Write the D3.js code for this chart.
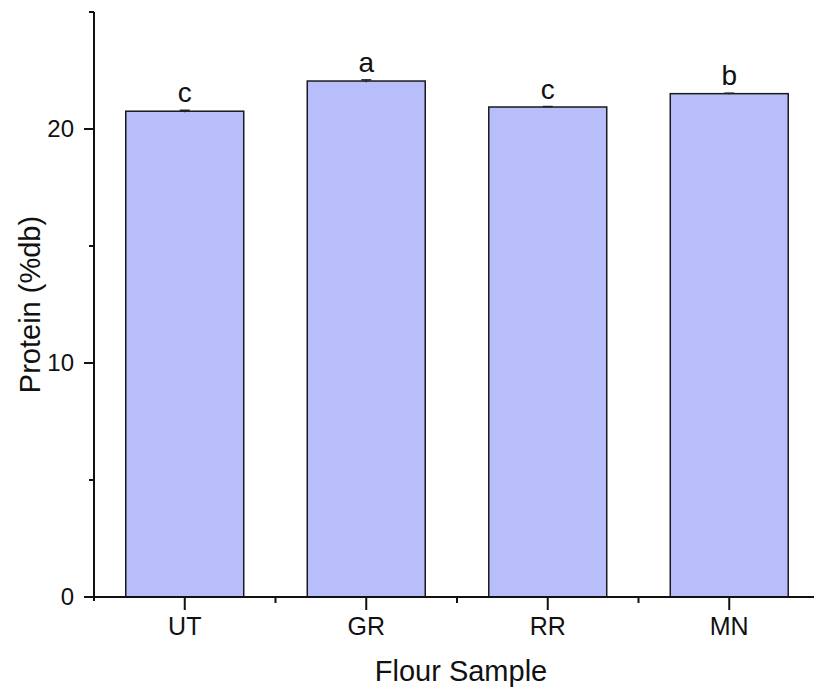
<!DOCTYPE html>
<html>
<head>
<meta charset="utf-8">
<script src="https://cdn.jsdelivr.net/npm/d3@7"></script>
<style>
  body { margin: 0; background: #fff; }
  svg { display: block; }
</style>
</head>
<body>
<div id="chart"></div>
<script>
// Data
const samples = ['UT', 'GR', 'RR', 'MN'];
const protein = [20.76, 22.05, 20.94, 21.51];
const proteinSd = [0.04, 0.05, 0.02, 0.02];
const groupLetters = ['c', 'a', 'c', 'b'];
const yMajorTicks = [0, 10, 20];
const yMinorTicks = [5, 15, 25];

// Layout constants
const CFG = {
  width: 814,
  height: 687,
  axisLeft: 94,
  axisRight: 820,
  axisTop: 12,
  axisBottom: 597,
  majorTick: 10,
  minorTick: 5,
  fontFamily: 'Arial, "Liberation Sans", Helvetica, sans-serif',
  barFill: '#b8befa',
  ink: '#111',
};

const svg = d3.select('#chart')
  .append('svg')
  .attr('width', CFG.width)
  .attr('height', CFG.height);

const x = d3.scaleBand()
  .domain(samples)
  .range([CFG.axisLeft, CFG.axisRight])
  .paddingInner(0.35)
  .paddingOuter(0.175);

const y = d3.scaleLinear()
  .domain([0, 25])
  .range([CFG.axisBottom, CFG.axisTop]);

const rows = samples.map((s, i) => ({
  name: s, value: protein[i], sd: proteinSd[i], letter: groupLetters[i],
}));

// Bars
svg.append('g')
  .selectAll('rect')
  .data(rows)
  .join('rect')
  .attr('x', d => x(d.name))
  .attr('y', d => y(d.value))
  .attr('width', x.bandwidth())
  .attr('height', d => y(0) - y(d.value))
  .attr('fill', CFG.barFill)
  .attr('stroke', '#1a1a1a')
  .attr('stroke-width', 1.5);

// Error bars (very small SD)
const err = svg.append('g').attr('stroke', '#222').attr('stroke-width', 1.5);
rows.forEach(d => {
  const cx = x(d.name) + x.bandwidth() / 2;
  err.append('line')
    .attr('x1', cx).attr('x2', cx)
    .attr('y1', y(d.value - d.sd)).attr('y2', y(d.value + d.sd));
  err.append('line')
    .attr('x1', cx - 5).attr('x2', cx + 5)
    .attr('y1', y(d.value + d.sd)).attr('y2', y(d.value + d.sd));
});

// Significance letters
svg.append('g')
  .selectAll('text')
  .data(rows)
  .join('text')
  .attr('x', d => x(d.name) + x.bandwidth() / 2)
  .attr('y', d => y(d.value + d.sd) - 8)
  .attr('text-anchor', 'middle')
  .attr('font-size', 28)
  .attr('font-family', CFG.fontFamily)
  .attr('fill', CFG.ink)
  .text(d => d.letter);

// Y axis
const yAxis = svg.append('g');
yAxis.append('line')
  .attr('x1', CFG.axisLeft).attr('x2', CFG.axisLeft)
  .attr('y1', CFG.axisTop).attr('y2', CFG.axisBottom + 4)
  .attr('stroke', CFG.ink).attr('stroke-width', 2);
yAxis.selectAll('line.major')
  .data(yMajorTicks)
  .join('line')
  .attr('class', 'major')
  .attr('x1', CFG.axisLeft - CFG.majorTick).attr('x2', CFG.axisLeft)
  .attr('y1', d => y(d)).attr('y2', d => y(d))
  .attr('stroke', CFG.ink).attr('stroke-width', 2);
yAxis.selectAll('line.minor')
  .data(yMinorTicks)
  .join('line')
  .attr('class', 'minor')
  .attr('x1', CFG.axisLeft - CFG.minorTick).attr('x2', CFG.axisLeft)
  .attr('y1', d => y(d)).attr('y2', d => y(d))
  .attr('stroke', CFG.ink).attr('stroke-width', 2);
yAxis.selectAll('text')
  .data(yMajorTicks)
  .join('text')
  .attr('x', CFG.axisLeft - CFG.majorTick - 10)
  .attr('y', d => y(d))
  .attr('dy', '0.35em')
  .attr('text-anchor', 'end')
  .attr('font-size', 24)
  .attr('font-family', CFG.fontFamily)
  .attr('fill', CFG.ink)
  .text(d => d);

// X axis
const xAxis = svg.append('g');
xAxis.append('line')
  .attr('x1', CFG.axisLeft - CFG.majorTick).attr('x2', CFG.axisRight)
  .attr('y1', CFG.axisBottom).attr('y2', CFG.axisBottom)
  .attr('stroke', CFG.ink).attr('stroke-width', 2);
xAxis.selectAll('line.major')
  .data(samples)
  .join('line')
  .attr('class', 'major')
  .attr('x1', d => x(d) + x.bandwidth() / 2).attr('x2', d => x(d) + x.bandwidth() / 2)
  .attr('y1', CFG.axisBottom).attr('y2', CFG.axisBottom + CFG.majorTick + 3)
  .attr('stroke', CFG.ink).attr('stroke-width', 2);
// minor ticks sit on the category boundaries
const bounds = samples.slice(1).map(s => x(s) - x.step() * x.paddingInner() / 2);
xAxis.selectAll('line.minor')
  .data(bounds)
  .join('line')
  .attr('class', 'minor')
  .attr('x1', d => d).attr('x2', d => d)
  .attr('y1', CFG.axisBottom).attr('y2', CFG.axisBottom + CFG.minorTick + 1)
  .attr('stroke', CFG.ink).attr('stroke-width', 2);
xAxis.selectAll('text')
  .data(samples)
  .join('text')
  .attr('x', d => x(d) + x.bandwidth() / 2)
  .attr('y', 635)
  .attr('text-anchor', 'middle')
  .attr('font-size', 25)
  .attr('font-family', CFG.fontFamily)
  .attr('fill', CFG.ink)
  .text(d => d);

// Axis titles
svg.append('text')
  .attr('x', (CFG.axisLeft + CFG.axisRight) / 2 + 4)
  .attr('y', 681)
  .attr('text-anchor', 'middle')
  .attr('font-size', 29)
  .attr('font-family', CFG.fontFamily)
  .attr('fill', CFG.ink)
  .text('Flour Sample');

svg.append('text')
  .attr('transform', `translate(40, ${(CFG.axisTop + CFG.axisBottom) / 2}) rotate(-90)`)
  .attr('text-anchor', 'middle')
  .attr('font-size', 29)
  .attr('font-family', CFG.fontFamily)
  .attr('fill', CFG.ink)
  .text('Protein (%db)');
</script>
</body>
</html>
